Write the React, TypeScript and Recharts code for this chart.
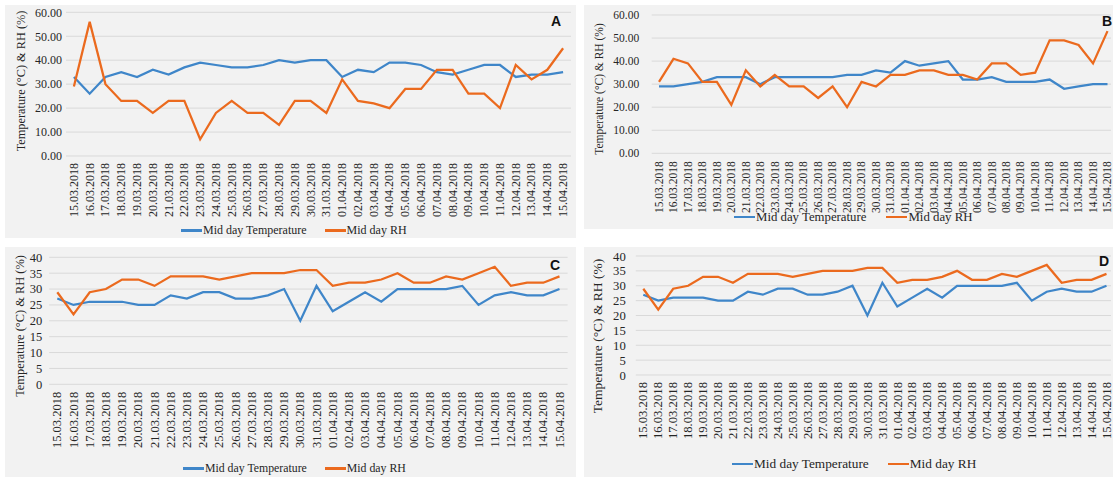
import React from "react";
import { LineChart, Line, XAxis, YAxis, CartesianGrid, Legend } from "recharts";

const dates = [
  "15.03.2018", "16.03.2018", "17.03.2018", "18.03.2018", "19.03.2018",
  "20.03.2018", "21.03.2018", "22.03.2018", "23.03.2018", "24.03.2018",
  "25.03.2018", "26.03.2018", "27.03.2018", "28.03.2018", "29.03.2018",
  "30.03.2018", "31.03.2018", "01.04.2018", "02.04.2018", "03.04.2018",
  "04.04.2018", "05.04.2018", "06.04.2018", "07.04.2018", "08.04.2018",
  "09.04.2018", "10.04.2018", "11.04.2018", "12.04.2018", "13.04.2018",
  "14.04.2018", "15.04.2018",
];

// panel A
const tempA = [33, 26, 33, 35, 33, 36, 34, 37, 39, 38, 37, 37, 38, 40, 39, 40, 40, 33, 36, 35, 39, 39, 38, 35, 34, 36, 38, 38, 33, 34, 34, 35];
const rhA = [29, 56, 30, 23, 23, 18, 23, 23, 7, 18, 23, 18, 18, 13, 23, 23, 18, 32, 23, 22, 20, 28, 28, 36, 36, 26, 26, 20, 38, 32, 36, 45];

// panel B
const tempB = [29, 29, 30, 31, 33, 33, 33, 30, 33, 33, 33, 33, 33, 34, 34, 36, 35, 40, 38, 39, 40, 32, 32, 33, 31, 31, 31, 32, 28, 29, 30, 30];
const rhB = [31, 41, 39, 31, 31, 21, 36, 29, 34, 29, 29, 24, 29, 20, 31, 29, 34, 34, 36, 36, 34, 34, 32, 39, 39, 34, 35, 49, 49, 47, 39, 53];

// panel C
const tempC = [27, 25, 26, 26, 26, 25, 25, 28, 27, 29, 29, 27, 27, 28, 30, 20, 31, 23, 26, 29, 26, 30, 30, 30, 30, 31, 25, 28, 29, 28, 28, 30];
const rhC = [29, 22, 29, 30, 33, 33, 31, 34, 34, 34, 33, 34, 35, 35, 35, 36, 36, 31, 32, 32, 33, 35, 32, 32, 34, 33, 35, 37, 31, 32, 32, 34];

// panel D (same readings as C)
const tempD = [27, 25, 26, 26, 26, 25, 25, 28, 27, 29, 29, 27, 27, 28, 30, 20, 31, 23, 26, 29, 26, 30, 30, 30, 30, 31, 25, 28, 29, 28, 28, 30];
const rhD = [29, 22, 29, 30, 33, 33, 31, 34, 34, 34, 33, 34, 35, 35, 35, 36, 36, 31, 32, 32, 33, 35, 32, 32, 34, 33, 35, 37, 31, 32, 32, 34];

const ticks60 = [0, 10, 20, 30, 40, 50, 60];
const ticks40 = [0, 5, 10, 15, 20, 25, 30, 35, 40];

const seriesNames = ["Mid day Temperature", "Mid day RH"];

const SERIF = '"Liberation Serif", "Times New Roman", serif';
const SANS = '"Liberation Sans", Arial, sans-serif';
const TEXT = "#262626";
const BLUE = "#3f86c9";
const ORANGE = "#eb6a1e";
const TITLE = "Temperature (°C) & RH (%)";

const DateTick = (props: any) => {
  const { x, y, payload, fontSize } = props;
  return (
    <text
      x={x}
      y={y}
      transform={`rotate(-90 ${x} ${y})`}
      textAnchor="end"
      dy="0.33em"
      fontSize={fontSize}
      fontFamily={SERIF}
      fill={TEXT}
    >
      {payload.value}
    </text>
  );
};

const makeLegend = (fontSize: number, gap: number) => (props: any) => {
  // keep series order (temperature first), the default sorts by name
  const items = [...(props.payload || [])].sort(
    (a: any, b: any) => seriesNames.indexOf(a.value) - seriesNames.indexOf(b.value)
  );
  return (
    <div style={{ display: "flex", alignItems: "center", fontFamily: SERIF, fontSize, color: TEXT, whiteSpace: "nowrap" }}>
      {items.map((e: any) => (
        <span key={e.value} style={{ display: "flex", alignItems: "center", marginRight: gap }}>
          <span style={{ display: "inline-block", width: 21, height: 2.5, background: e.color, marginRight: 1 }} />
          {e.value}
        </span>
      ))}
    </div>
  );
};

type PanelProps = {
  temp: number[];
  rh: number[];
  yTicks: number[];
  decimals: number;
  box: number[]; // left, top, width, height
  top: number;
  right: number;
  bottom: number;
  yAxisWidth: number;
  xAxisHeight: number;
  padL: number;
  padR: number;
  font: number;
  yGap: number;
  xGap: number;
  legendLeft: number;
  legendTop: number;
  legendGap: number;
  legendFont: number;
  titleX: number;
  titleY: number;
  titleFont: number;
};

function Panel(p: PanelProps) {
  const data = dates.map((d, i) => ({ date: d, temp: p.temp[i], rh: p.rh[i] }));
  const [left, top, width, height] = p.box;
  return (
    <div style={{ position: "absolute", left, top, width, height, background: "#f2f2f2" }}>
      <LineChart
        width={width}
        height={height}
        data={data}
        style={{ overflow: "visible" }}
        margin={{ top: p.top, right: p.right, bottom: p.bottom, left: 0 }}
      >
        <CartesianGrid vertical={false} stroke="#d9d9d9" strokeWidth={1} />
        <XAxis
          dataKey="date"
          scale="point"
          interval={0}
          padding={{ left: p.padL, right: p.padR }}
          axisLine={false}
          tickLine={false}
          tickSize={0}
          tickMargin={p.xGap}
          height={p.xAxisHeight}
          tick={<DateTick fontSize={p.font} />}
        />
        <YAxis
          domain={[p.yTicks[0], p.yTicks[p.yTicks.length - 1]]}
          ticks={p.yTicks}
          interval={0}
          width={p.yAxisWidth}
          axisLine={false}
          tickLine={false}
          tickSize={0}
          tickMargin={p.yGap}
          tickFormatter={(v: number) => v.toFixed(p.decimals)}
          tick={{ fontSize: p.font, fill: TEXT, fontFamily: SERIF }}
        />
        <Legend
          verticalAlign="middle"
          align="center"
          wrapperStyle={{ left: p.legendLeft, top: p.legendTop, width: "auto" }}
          content={makeLegend(p.legendFont, p.legendGap)}
        />
        <Line
          type="linear"
          dataKey="temp"
          name={seriesNames[0]}
          stroke={BLUE}
          strokeWidth={2.25}
          dot={false}
          isAnimationActive={false}
        />
        <Line
          type="linear"
          dataKey="rh"
          name={seriesNames[1]}
          stroke={ORANGE}
          strokeWidth={2.25}
          dot={false}
          isAnimationActive={false}
        />
      </LineChart>
      <div
        style={{
          position: "absolute",
          left: p.titleX,
          top: p.titleY,
          transform: "translate(-50%, -50%) rotate(-90deg)",
          whiteSpace: "nowrap",
          fontFamily: SERIF,
          fontSize: p.titleFont,
          color: TEXT,
          lineHeight: 1,
        }}
      >
        {TITLE}
      </div>
    </div>
  );
}

const letterStyle = (left: number, top: number): React.CSSProperties => ({
  position: "absolute",
  left,
  top,
  fontFamily: SANS,
  fontWeight: "bold",
  fontSize: 14,
  lineHeight: 1,
  color: "#111",
});

export default function App() {
  return (
    <div style={{ position: "absolute", left: 0, top: 0, width: 1115, height: 478, background: "#fff", overflow: "hidden" }}>
      <Panel
        temp={tempA} rh={rhA} yTicks={ticks60} decimals={2}
        box={[5, 5, 571, 233]} top={7.3} right={5} bottom={22}
        yAxisWidth={61} xAxisHeight={60} padL={7.9} padR={7.9}
        font={12} yGap={4} xGap={7}
        legendLeft={176} legendTop={218} legendGap={18} legendFont={12}
        titleX={16} titleY={76} titleFont={12.3}
      />
      <Panel
        temp={tempB} rh={rhB} yTicks={ticks60} decimals={2}
        box={[584, 5, 529, 224]} top={10} right={2} bottom={20.7}
        yAxisWidth={67.7} xAxisHeight={55} padL={7.3} padR={3.5}
        font={11.5} yGap={12.5} xGap={8}
        legendLeft={150} legendTop={204.5} legendGap={20} legendFont={12.8}
        titleX={16} titleY={84} titleFont={11.5}
      />
      <Panel
        temp={tempC} rh={rhC} yTicks={ticks40} decimals={0}
        box={[5, 247, 571, 230]} top={10.3} right={8.4} bottom={26.7}
        yAxisWidth={44.2} xAxisHeight={66} padL={8.1} padR={8.1}
        font={12.5} yGap={7} xGap={7.5}
        legendLeft={178} legendTop={214} legendGap={18} legendFont={11.8}
        titleX={15} titleY={79} titleFont={12.4}
      />
      <Panel
        temp={tempD} rh={rhD} yTicks={ticks40} decimals={0}
        box={[584, 247, 529, 230]} top={9} right={2} bottom={32}
        yAxisWidth={51.8} xAxisHeight={70} padL={7.5} padR={4.5}
        font={12.7} yGap={10} xGap={7}
        legendLeft={148} legendTop={209} legendGap={19} legendFont={13.3}
        titleX={14} titleY={89} titleFont={13.5}
      />
      <div style={letterStyle(551, 13.5)}>A</div>
      <div style={letterStyle(1102, 13.5)}>B</div>
      <div style={letterStyle(550, 258)}>C</div>
      <div style={letterStyle(1099, 254)}>D</div>
    </div>
  );
}
